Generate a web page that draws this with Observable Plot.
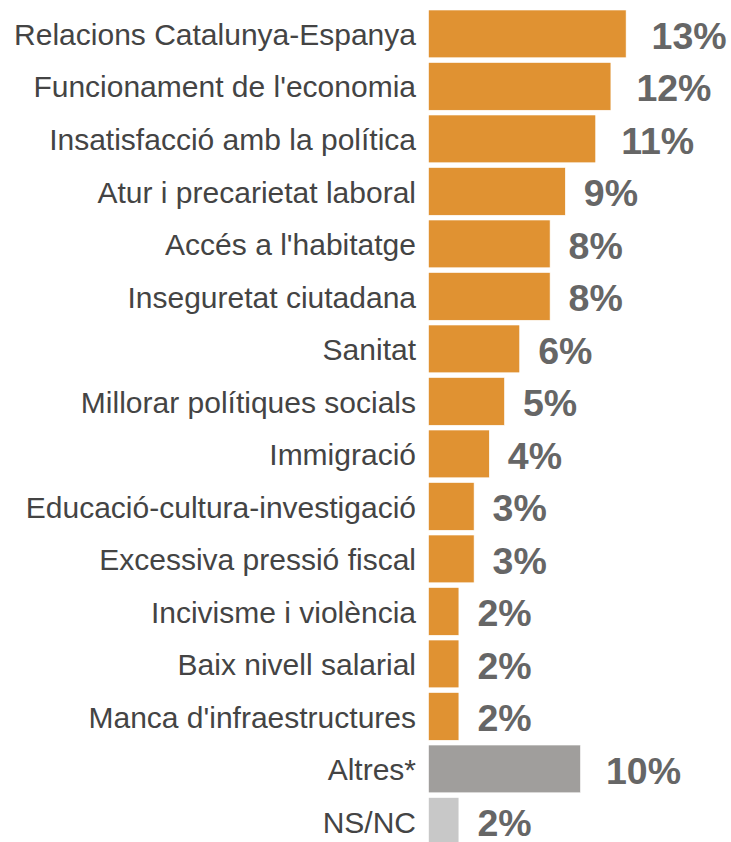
<!DOCTYPE html>
<html>
<head>
<meta charset="utf-8">
<script src="https://cdn.jsdelivr.net/npm/d3@7"></script>
<script src="https://cdn.jsdelivr.net/npm/@observablehq/plot@0.6"></script>
<style>
  html, body { margin: 0; padding: 0; background: #fff; overflow: hidden; }
  #chart svg { display: block; }
</style>
</head>
<body>
<div id="chart"></div>
<script>
const categories = [
  "Relacions Catalunya-Espanya",
  "Funcionament de l'economia",
  "Insatisfacció amb la política",
  "Atur i precarietat laboral",
  "Accés a l'habitatge",
  "Inseguretat ciutadana",
  "Sanitat",
  "Millorar polítiques socials",
  "Immigració",
  "Educació-cultura-investigació",
  "Excessiva pressió fiscal",
  "Incivisme i violència",
  "Baix nivell salarial",
  "Manca d'infraestructures",
  "Altres*",
  "NS/NC"
];
const values = [13, 12, 11, 9, 8, 8, 6, 5, 4, 3, 3, 2, 2, 2, 10, 2];
const groups = ["main","main","main","main","main","main","main","main","main","main","main","main","main","main","other","nsnc"];

const data = categories.map((c, i) => ({category: c, value: values[i], group: groups[i], label: values[i] + "%"}));
const colorMap = {main: "#E09232", other: "#A09E9C", nsnc: "#C8C8C8"};

const valueLabel = (subset, dx) => Plot.text(subset, {
  x: "value", y: "category", text: "label", textAnchor: "start",
  dx, dy: 2.5, fontSize: 37.5, fontWeight: "bold", fill: "#666666"
});

const chart = Plot.plot({
  width: 731,
  height: 842,
  marginLeft: 428.5,
  marginRight: 0,
  marginTop: 10,
  marginBottom: 0,
  style: {fontFamily: "'Liberation Sans', Arial, sans-serif", background: "#fff", overflow: "hidden"},
  x: {domain: [0, 19.9], axis: null},
  y: {domain: categories, axis: null, range: [10, 845.3], round: false, paddingInner: 0.09, paddingOuter: 0},
  marks: [
    Plot.barX(data, {x: "value", y: "category", fill: d => colorMap[d.group], stroke: "#fff", strokeWidth: 0.6}),
    Plot.text(data, {x: 0, y: "category", text: "category", textAnchor: "end", dx: -13, dy: 1,
      fontSize: 30, fill: "#444444"}),
    valueLabel(data.filter(d => d.value >= 10), 25),
    valueLabel(data.filter(d => d.value < 10), 18)
  ]
});
document.getElementById("chart").appendChild(chart);
</script>
</body>
</html>
